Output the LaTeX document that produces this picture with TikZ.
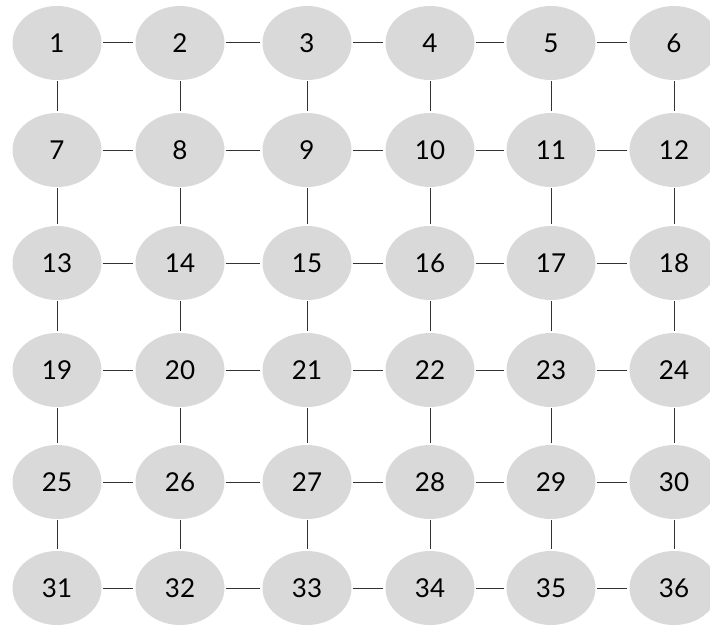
\documentclass[tikz,border=0pt]{standalone}
\usepackage{fontspec}
\setmainfont{Lato}
\usetikzlibrary{shapes.geometric}
\definecolor{nodefill}{HTML}{D9D9D9}
\definecolor{edgecol}{HTML}{333333}
\begin{document}
\begin{tikzpicture}[x=1pt,y=1pt,
  gnode/.style={ellipse,fill=nodefill,draw=none,minimum width=89pt,minimum height=74pt,inner sep=0pt,font=\fontsize{26}{26}\selectfont},
  gedge/.style={draw=edgecol,line width=1pt,shorten >=2pt,shorten <=1pt}]
\useasboundingbox (0,0) rectangle (710,-626);
\def\xs{{57,180,307,430,551,674}}
\def\ys{{43,150,263,370,482,588}}
\foreach \r in {0,...,5}{
  \foreach \c in {0,...,5}{
    \pgfmathtruncatemacro{\n}{\r*6+\c+1}
    \pgfmathsetmacro{\xx}{\xs[\c]}
    \pgfmathsetmacro{\yy}{\ys[\r]}
    \node[gnode] (n\n) at (\xx,-\yy) {\raisebox{-1.5pt}{\n}};
  }
}
\foreach \r in {0,...,5}{
  \foreach \c in {1,...,5}{
    \pgfmathtruncatemacro{\a}{\r*6+\c}
    \pgfmathtruncatemacro{\b}{\r*6+\c+1}
    \draw[gedge] (n\a) -- (n\b);
  }
}
\foreach \r in {1,...,5}{
  \foreach \c in {1,...,6}{
    \pgfmathtruncatemacro{\a}{(\r-1)*6+\c}
    \pgfmathtruncatemacro{\b}{\r*6+\c}
    \draw[gedge] (n\a) -- (n\b);
  }
}
\end{tikzpicture}
\end{document}
